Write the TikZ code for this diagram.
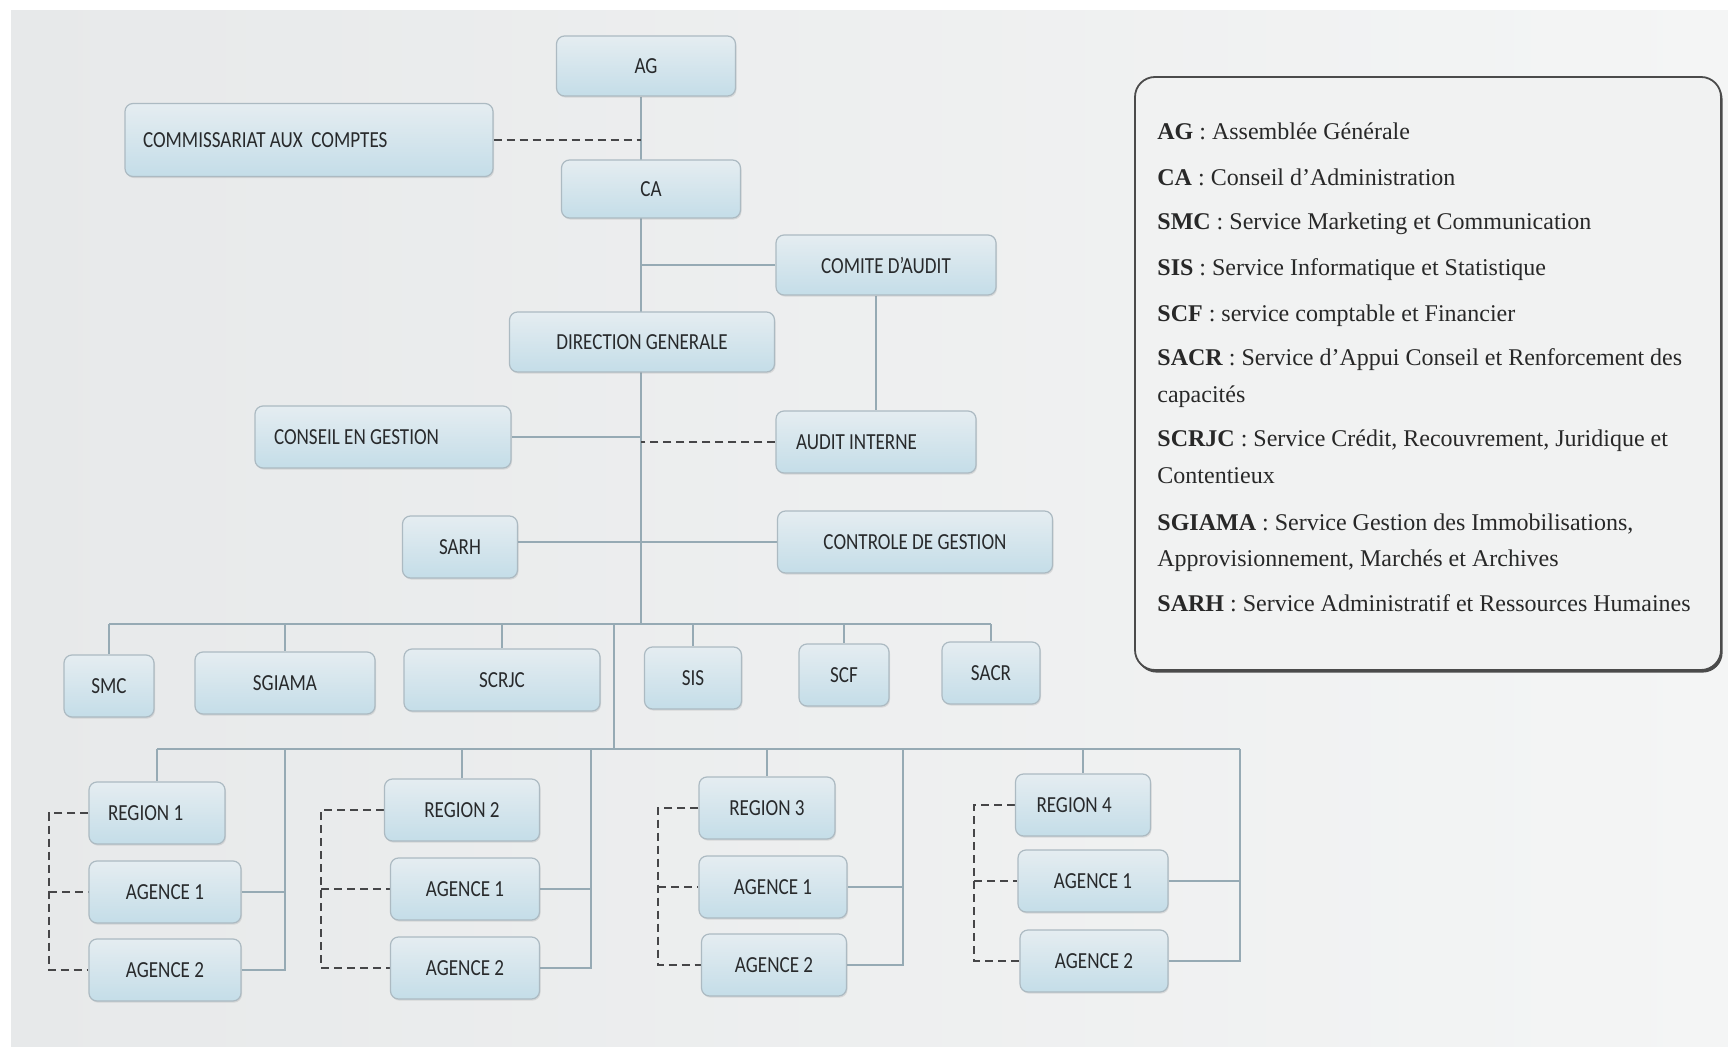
\documentclass[tikz,border=0pt]{standalone}
\usepackage{fontspec}
\setmainfont{Liberation Serif}
\newfontfamily\boxfont[FakeStretch=0.83]{Carlito}
\newcommand{\padleft}[2]{\makebox[#1][l]{#2}}
\usepackage{tikz}
\usetikzlibrary{shadows, backgrounds, calc}

\definecolor{scanl}{RGB}{231,233,234}
\definecolor{scanr}{RGB}{244,245,245}
\definecolor{boxtop}{RGB}{229,237,241}
\definecolor{boxbot}{RGB}{196,221,232}
\definecolor{boxline}{RGB}{172,186,194}
\definecolor{linkcol}{RGB}{150,170,180}
\definecolor{dashcol}{RGB}{70,70,72}
\definecolor{labelcol}{RGB}{40,42,44}
\definecolor{legendcol}{RGB}{40,40,40}
\definecolor{legendframe}{RGB}{75,75,75}
\definecolor{legendfill}{RGB}{241,242,242}

\begin{document}
\begin{tikzpicture}[x=0.5pt, y=-0.5pt,
  orgbox/.style={draw=boxline, line width=0.6pt, rounded corners=4pt,
    top color=boxtop, bottom color=boxbot, text=labelcol,
    font=\boxfont\fontsize{11.5}{13}\selectfont,
    minimum width=#1, minimum height=31pt, inner sep=2pt,
    drop shadow={shadow xshift=0.5pt, shadow yshift=-0.8pt, opacity=0.2}},
  leftpad/.style={inner xsep=#1},
  link/.style={draw=linkcol, line width=0.9pt},
  dashlink/.style={draw=dashcol, line width=1pt, dash pattern=on 4pt off 2.5pt},
  legendtext/.style={anchor=base west, inner sep=0pt, text=legendcol,
    font=\fontsize{12}{14}\selectfont}]
  \useasboundingbox (0,0) rectangle (1728,1047);

  % Scanned page
  \begin{scope}[on background layer]
    \fill[white] (0,0) rectangle (1728,1047);
    \shade[left color=scanl, right color=scanr] (11,11) rectangle (1728,1047);
  \end{scope}

  % Governance
  \node[orgbox=89.5pt, minimum height=30pt] (ag) at (646,66) {AG};
  \node[orgbox=184pt, minimum height=36.5pt, leftpad=9pt] (cac) at (309,140)
    {\padleft{166pt}{COMMISSARIAT AUX\ \ COMPTES}};
  \node[orgbox=89.5pt, minimum height=29pt] (ca) at (651,189) {CA};
  \node[orgbox=110pt, minimum height=30pt] (comite) at (886,265) {COMITE D’AUDIT};
  \node[orgbox=132.5pt, minimum height=30pt] (dg) at (642,342) {DIRECTION GENERALE};
  \node[orgbox=128pt, leftpad=9.5pt] (cg) at (383,437) {\padleft{109pt}{CONSEIL EN GESTION}};
  \node[orgbox=100pt, leftpad=10pt] (ai) at (876,442) {\padleft{80pt}{AUDIT INTERNE}};
  \node[orgbox=57.5pt] (sarh) at (460,547) {SARH};
  \node[orgbox=137.5pt] (ctrl) at (915,542) {CONTROLE DE GESTION};

  % Services
  \node[orgbox=45pt] (smc) at (109,686) {SMC};
  \node[orgbox=90pt] (sgiama) at (285,683) {SGIAMA};
  \node[orgbox=98pt] (scrjc) at (502,680) {SCRJC};
  \node[orgbox=48.5pt] (sis) at (693,678) {SIS};
  \node[orgbox=45pt] (scf) at (844,675) {SCF};
  \node[orgbox=49pt] (sacr) at (991,673) {SACR};

  % Regions and agencies
  \node[orgbox=68pt, leftpad=9.5pt] (reg1) at (157,813) {\padleft{49pt}{REGION 1}};
  \node[orgbox=76pt] (agi1) at (165,892) {AGENCE 1};
  \node[orgbox=76pt] (agii1) at (165,970) {AGENCE 2};
  \node[orgbox=77.5pt] (reg2) at (462,810) {REGION 2};
  \node[orgbox=74.5pt] (agi2) at (465,889) {AGENCE 1};
  \node[orgbox=74.5pt] (agii2) at (465,968) {AGENCE 2};
  \node[orgbox=68pt] (reg3) at (767,808) {REGION 3};
  \node[orgbox=74pt] (agi3) at (773,887) {AGENCE 1};
  \node[orgbox=72.5pt] (agii3) at (774,965) {AGENCE 2};
  \node[orgbox=67.5pt, leftpad=10.5pt] (reg4) at (1083,805) {\padleft{46.5pt}{REGION 4}};
  \node[orgbox=75pt] (agi4) at (1093,881) {AGENCE 1};
  \node[orgbox=74pt] (agii4) at (1094,961) {AGENCE 2};

  % Bus junctions
  \coordinate (spine) at (641,624);
  \coordinate (rbus) at (614,749);
  \foreach \g/\rx/\dx in {1/285/49, 2/591/321, 3/903/658, 4/1240/974} {
    \coordinate (rt\g) at (\rx,749);
    \coordinate (dl\g) at (\dx,0);
  }

  % Connectors
  \begin{scope}[on background layer]
    \draw[link] (ag.south -| spine) -- (spine);
    \draw[dashlink] (cac.east) -- (cac.east -| spine);
    \draw[link] (comite.west) -- (comite.west -| spine);
    \draw[link] (ai.north |- comite.south) -- (ai.north);
    \draw[link] (cg.east) -- (cg.east -| spine);
    \draw[dashlink] (ai.west) -- (ai.west -| spine);
    \draw[link] (sarh.east |- ctrl.west) -- (ctrl.west);
    \draw[link] (smc.north |- spine) -- (sacr.north |- spine);
    \foreach \n in {smc, sgiama, scrjc, sis, scf, sacr}
      \draw[link] (\n.north |- spine) -- (\n.north);
    \draw[link] (rbus |- spine) -- (rbus);
    \draw[link] (reg1.north |- rbus) -- (rt4);
    \foreach \g in {1,2,3,4} {
      \draw[link] (reg\g.north |- rbus) -- (reg\g.north);
      \draw[link] (rt\g) |- (agii\g.east);
      \draw[link] (agi\g.east) -- (agi\g.east -| rt\g);
      \draw[dashlink] (reg\g.west) -| (agii\g.west -| dl\g) -- (agii\g.west);
      \draw[dashlink] (agi\g.west -| dl\g) -- (agi\g.west);
    }
  \end{scope}

  % Legend
  \node[draw=legendframe, line width=0.9pt, rounded corners=10pt, fill=legendfill,
        minimum width=293pt, minimum height=296.5pt,
        drop shadow={shadow xshift=0.8pt, shadow yshift=-1.3pt,
          fill=legendframe, opacity=1}] (legend) at (1428,373.5) {};
  \node[legendtext] (lgag) at (1157,140) {\textbf{AG} : Assemblée Générale};
  \node[legendtext] (lgca) at (1157,186) {\textbf{CA} : Conseil d’Administration};
  \node[legendtext] (lgsmc) at (1157,230) {\textbf{SMC} : Service Marketing et Communication};
  \node[legendtext] (lgsis) at (1157,275.5) {\textbf{SIS} : Service Informatique et Statistique};
  \node[legendtext] (lgscf) at (1157,322) {\textbf{SCF} : service comptable et Financier};
  \node[legendtext] (lgsacr) at (1157,366) {\textbf{SACR} : Service d’Appui Conseil et Renforcement des};
  \node[legendtext] (lgsacrb) at (1157,403) {capacités};
  \node[legendtext] (lgscrjc) at (1157,447) {\textbf{SCRJC} : Service Crédit, Recouvrement, Juridique et};
  \node[legendtext] (lgscrjcb) at (1157,484) {Contentieux};
  \node[legendtext] (lgsgiama) at (1157,530.5) {\textbf{SGIAMA} : Service Gestion des Immobilisations,};
  \node[legendtext] (lgsgiamab) at (1157,567) {Approvisionnement, Marchés et Archives};
  \node[legendtext] (lgsarh) at (1157,611) {\textbf{SARH} : Service Administratif et Ressources Humaines};
\end{tikzpicture}
\end{document}
